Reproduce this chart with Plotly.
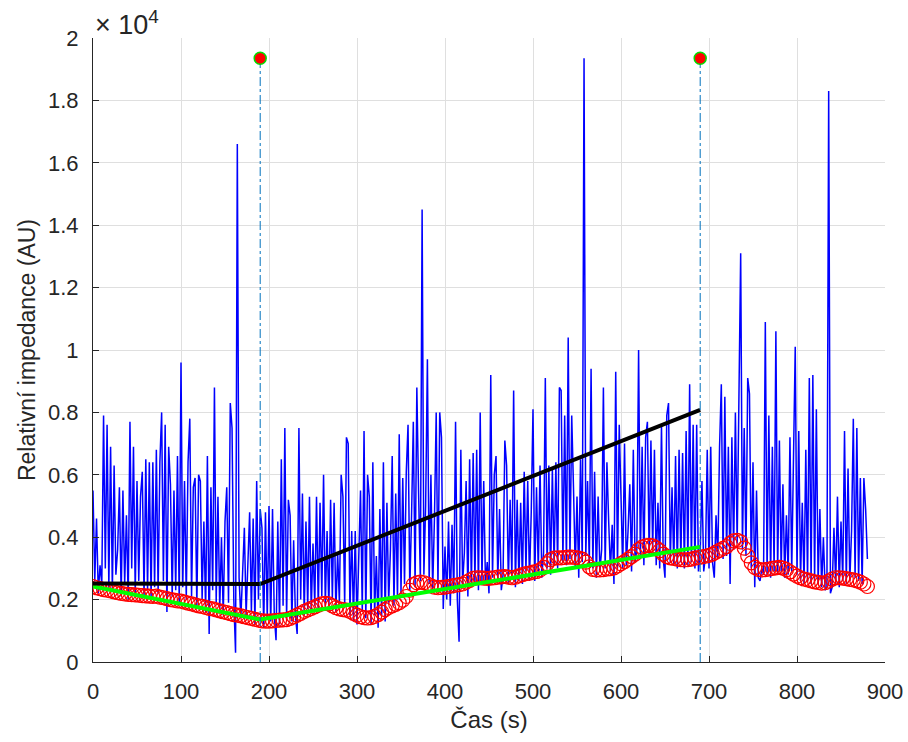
import plotly.graph_objects as go

# ---- data ----
# raw relative impedance, sampled every 2 s (0 .. 880 s)
impedance = [
    5500, 2600, 4600, 2200, 3100, 2500, 7900, 3000, 7600, 2400,
    6900, 2300, 6300, 2800, 3600, 5600, 2100, 5500, 2500, 4700,
    2000, 7700, 3000, 6900, 2200, 5800, 2600, 5300, 6100, 2100,
    6500, 2300, 6400, 2000, 6400, 2400, 6800, 2200, 6400, 8000,
    2600, 7600, 1600, 6900, 5700, 2100, 5500, 2300, 6600, 1900,
    9600, 2400, 5800, 2000, 6400, 7800, 2100, 5600, 5900, 1800,
    6000, 5800, 2000, 4500, 1600, 6600, 900, 5600, 2300, 8800,
    1900, 5300, 1700, 4000, 1500, 4500, 5600, 1900, 8300, 7500,
    2000, 300, 16600, 2700, 1400, 3000, 4300, 1500, 3200, 4800,
    1600, 4600, 1200, 5800, 2000, 4900, 4300, 1100, 4800, 1400,
    5000, 1300, 4900, 1500, 700, 4500, 1200, 6500, 1800, 7500,
    1400, 5200, 4700, 1300, 3900, 1500, 900, 7500, 2000, 5400,
    1500, 4500, 1700, 5300, 1600, 3800, 1800, 5300, 1700, 5100,
    2100, 6000, 1800, 4200, 1700, 5200, 2000, 5100, 1600, 3500,
    1900, 6000, 5300, 1800, 7200, 7000, 1500, 4200, 1300, 4200,
    1200, 3000, 5500, 1600, 7400, 1400, 6000, 5300, 1200, 6400,
    1500, 3400, 1100, 4900, 1500, 6400, 1300, 5100, 1900, 3600,
    6600, 1800, 5400, 2000, 7300, 2200, 5900, 2500, 6100, 7600,
    2300, 4700, 7700, 2400, 8800, 5400, 2600, 14500, 2800, 5000,
    9700, 2500, 6000, 2300, 4600, 8000, 2400, 8000, 7200, 1700,
    3700, 2000, 4500, 1800, 4400, 2200, 7700, 2000, 650, 6800,
    2500, 3500, 5800, 2100, 6500, 2400, 6700, 2500, 6800, 2300,
    8000, 2600, 5800, 2500, 3200, 2200, 9200, 2700, 6000, 6600,
    2600, 4900, 2300, 2800, 7100, 6300, 2500, 5200, 2700, 8700,
    2400, 5200, 2600, 5100, 2500, 6100, 2900, 5800, 2600, 4800,
    8100, 2600, 5600, 2900, 6300, 2700, 3500, 9100, 3000, 6300,
    2800, 6200, 3100, 6400, 3000, 8800, 8700, 3200, 7900, 3100,
    10400, 3300, 7900, 5600, 3000, 5300, 2700, 6500, 3200, 19350,
    3400, 5800, 3100, 9400, 3000, 6100, 2700, 5300, 2900, 3600,
    8800, 3000, 6400, 4500, 2900, 4400, 2500, 9300, 3000, 7600,
    5300, 3000, 7000, 3100, 4200, 5700, 2900, 6800, 3200, 3600,
    10000, 3300, 6900, 3100, 7200, 7700, 3400, 7100, 3600, 6800,
    3100, 5100, 3000, 7600, 3300, 2700, 7900, 8300, 3200, 5600,
    3100, 6600, 3000, 6800, 3200, 6700, 3000, 7400, 3100, 8900,
    3200, 7600, 3000, 7600, 2900, 3500, 5800, 2900, 3400, 6800,
    3000, 6900, 3200, 2700, 4700, 3300, 6900, 8900, 3300, 8500,
    3400, 6900, 2500, 7200, 3600, 8000, 3800, 7700, 13100, 3600,
    7500, 3400, 9100, 8600, 3000, 6400, 2400, 5500, 2700, 2600,
    3000, 2800, 10900, 2800, 7900, 2700, 6900, 2900, 10600, 2800,
    7100, 2900, 5700, 2700, 4700, 2800, 7200, 2900, 6700, 10100,
    2800, 7400, 2600, 5100, 2500, 6800, 2600, 9100, 2500, 9200,
    2600, 8100, 2500, 4900, 2400, 4000, 2300, 2400, 18300, 2200,
    2400, 4300, 2500, 5300, 2400, 4500, 2600, 7400, 2500, 6200,
    2600, 4200, 7800, 2700, 7500, 2600, 5900, 2500, 5900, 4900, 3300,
]
impedance_step = 2  # s

# smoothed curve (red circles), sampled every 4 s (0 .. 880 s)
smoothed = [
    2420, 2380, 2350, 2320, 2300, 2280, 2250, 2220, 2200, 2180,
    2170, 2160, 2150, 2140, 2130, 2120, 2110, 2100, 2110, 2080,
    2060, 2030, 2000, 1980, 1960, 1950, 1920, 1890, 1860, 1830,
    1800, 1780, 1750, 1720, 1700, 1670, 1640, 1610, 1580, 1550,
    1520, 1500, 1480, 1450, 1420, 1400, 1370, 1340, 1320, 1310,
    1310, 1320, 1330, 1340, 1350, 1360, 1400, 1450, 1500, 1560,
    1620, 1670, 1720, 1770, 1820, 1860, 1880, 1860, 1800, 1740,
    1700, 1680, 1660, 1620, 1560, 1500, 1450, 1420, 1410, 1420,
    1460, 1520, 1600, 1680, 1750, 1800, 1850, 1900, 1980, 2100,
    2300, 2480, 2540, 2560, 2540, 2500, 2440, 2400, 2380, 2390,
    2400, 2420, 2440, 2460, 2480, 2500, 2560, 2620, 2680, 2700,
    2700, 2690, 2680, 2690, 2700, 2720, 2730, 2740, 2720, 2700,
    2720, 2760, 2800, 2830, 2850, 2880, 2900, 2950, 3030, 3150,
    3280, 3330, 3340, 3340, 3350, 3360, 3360, 3350, 3330, 3300,
    3200, 3050, 2970, 2950, 2950, 2960, 2980, 2990, 3020, 3080,
    3150, 3220, 3300, 3380, 3460, 3600, 3680, 3720, 3740, 3720,
    3660, 3570, 3460, 3380, 3340, 3320, 3300, 3280, 3270, 3280,
    3300, 3330, 3350, 3370, 3390, 3420, 3460, 3520, 3580, 3640,
    3700, 3800, 3880, 3900, 3850, 3650, 3400, 3180, 3030, 2970,
    2950, 2960, 2980, 3000, 3020, 3030, 3010, 2960, 2890, 2820,
    2750, 2700, 2660, 2630, 2600, 2570, 2550, 2530, 2540, 2590,
    2660, 2700, 2700, 2690, 2670, 2650, 2630, 2600, 2560, 2500,
    2420,
]
smoothed_step = 4  # s

# piecewise-linear fits
fit_green_t = [0, 190, 690]
fit_green_v = [2420, 1360, 3690]
fit_black_t = [0, 190, 690]
fit_black_v = [2520, 2500, 8080]

# detected events (vertical markers)
event_t = [190, 690]
event_v = [19350, 19350]

x_ticks = [0, 100, 200, 300, 400, 500, 600, 700, 800, 900]
y_ticks = [0, 2000, 4000, 6000, 8000, 10000, 12000, 14000, 16000, 18000, 20000]
y_tick_labels = ["0", "0.2", "0.4", "0.6", "0.8", "1", "1.2", "1.4", "1.6", "1.8", "2"]

x_title = "Čas (s)"
y_title = "Relativní impedance (AU)"

# ---- figure ----
imp_t = [i * impedance_step for i in range(len(impedance))]
sm_t = [i * smoothed_step for i in range(len(smoothed))]

FONT = "Liberation Sans, Arial, Helvetica, sans-serif"
TXT = "#262626"

fig = go.Figure()
fig.add_trace(go.Scatter(x=imp_t, y=impedance, mode="lines",
                         line=dict(color="#0000FF", width=1.5), showlegend=False))
fig.add_trace(go.Scatter(x=sm_t, y=smoothed, mode="markers",
                         marker=dict(symbol="circle-open", size=14, color="#FF0000",
                                     line=dict(width=1.2, color="#FF0000")),
                         showlegend=False))
fig.add_trace(go.Scatter(x=fit_green_t, y=fit_green_v, mode="lines",
                         line=dict(color="#00FF00", width=4), showlegend=False))
fig.add_trace(go.Scatter(x=fit_black_t, y=fit_black_v, mode="lines",
                         line=dict(color="#000000", width=4), showlegend=False))
for t, v in zip(event_t, event_v):
    fig.add_trace(go.Scatter(x=[t, t], y=[0, v], mode="lines",
                             line=dict(color="#0072BD", width=1, dash="dashdot"),
                             showlegend=False))
fig.add_trace(go.Scatter(x=event_t, y=event_v, mode="markers",
                         marker=dict(symbol="circle", size=12, color="#FF0000",
                                     line=dict(width=1.5, color="#00DD00")),
                         showlegend=False))

axis_common = dict(
    showline=True, linecolor=TXT, linewidth=1.2, mirror=False,
    ticks="inside", ticklen=6, tickcolor=TXT, tickwidth=1,
    showgrid=True, gridcolor="#DFDFDF", gridwidth=1,
    zeroline=False, automargin=False,
    tickfont=dict(family=FONT, size=22, color=TXT),
)

fig.update_layout(
    width=908, height=742,
    margin=dict(l=93, r=23, t=38, b=80),
    paper_bgcolor="white", plot_bgcolor="white",
    font=dict(family=FONT, color=TXT),
    xaxis=dict(range=[0, 900], tickvals=x_ticks, ticklabelstandoff=9,
               title=dict(text=x_title, font=dict(family=FONT, size=24, color=TXT), standoff=8),
               **axis_common),
    yaxis=dict(range=[0, 20000], tickvals=y_ticks, ticktext=y_tick_labels, ticklabelstandoff=9,
               title=dict(text=y_title, font=dict(family=FONT, size=23, color=TXT), standoff=5),
               **axis_common),
    annotations=[dict(text="× 10<sup>4</sup>", xref="paper", yref="paper", x=0, y=1,
                      xanchor="left", yanchor="bottom", showarrow=False, yshift=-4,
                      font=dict(family=FONT, size=27, color=TXT))],
)

fig.write_html("out.html", config={"displayModeBar": False},
               post_script="document.body.style.margin='0';")
